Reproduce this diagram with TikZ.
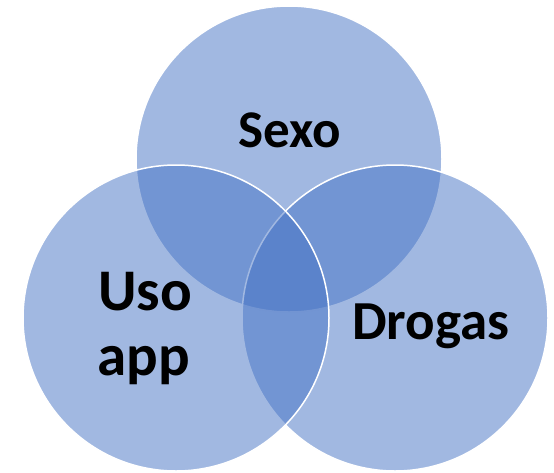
\documentclass[tikz,border=0pt]{standalone}
\usepackage{fontspec}
\setmainfont{Carlito}
\begin{document}
\begin{tikzpicture}[x=1pt,y=-1pt,
  venn/.style={circle, minimum size=306pt, inner sep=0pt, fill={rgb,255:red,68;green,114;blue,196}, fill opacity=0.5, draw=white, draw opacity=1, line width=1.5pt},
  lbl/.style={font=\bfseries, text=black, anchor=base, inner sep=0pt, align=center}]
\useasboundingbox (0,0) rectangle (554,472);
\node[venn] (top) at (289,159) {};
\node[venn] (right) at (395,318) {};
\node[venn] (left) at (176,318) {};
\node[lbl, font=\bfseries\fontsize{53}{60}\selectfont] (sexo) at (290,147) {Sexo};
\node[lbl, font=\bfseries\fontsize{59}{68}\selectfont] (uso) at (145,310) {Uso};
\node[lbl, font=\bfseries\fontsize{59}{68}\selectfont] (app) at (144,375) {app};
\node[lbl, font=\bfseries\fontsize{55}{60}\selectfont] (drogas) at (431,339) {Drogas};
\end{tikzpicture}
\end{document}
